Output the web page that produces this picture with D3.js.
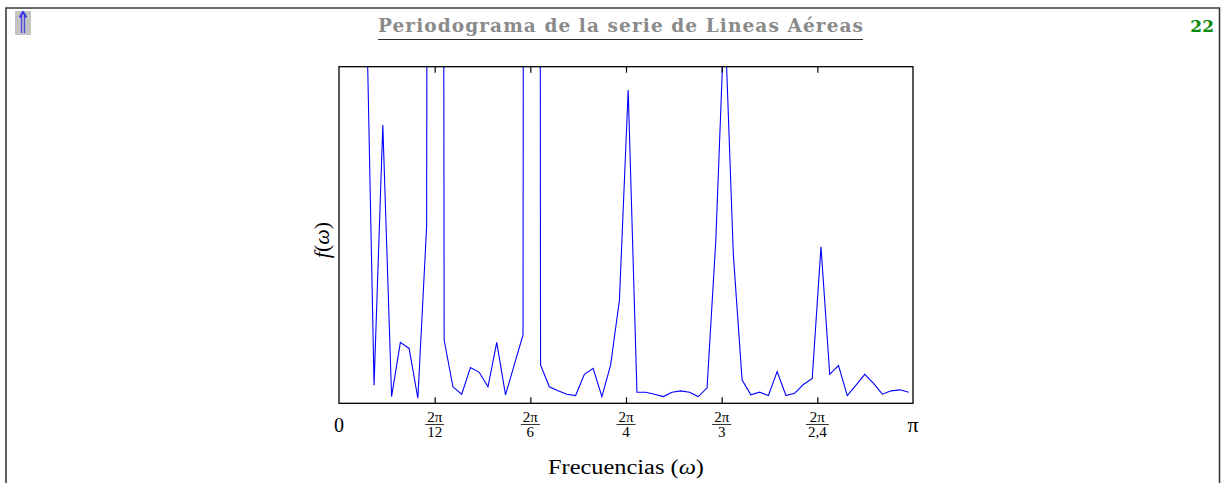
<!DOCTYPE html>
<html>
<head>
<meta charset="utf-8">
<script src="https://cdn.jsdelivr.net/npm/d3@7"></script>
<style>
  html, body { margin: 0; padding: 0; background: #fff; }
  svg { display: block; }
</style>
</head>
<body>
<svg id="chart" width="1226" height="483"></svg>
<script>
// ---- data ----
const seriesLength = 131; // length of the differenced series (Fourier frequencies 2πk/n)
// periodogram ordinates for harmonics k = 1..65 (arbitrary units; axis has no y tick labels)
const periodogram = [
  400, 300, 136, 5.4, 82.7, 2.0, 18.1, 16.3, 1.5, 52.5,
  2000, 18.8, 4.9, 2.7, 10.6, 9.2, 4.9, 18.1, 2.5, 11.4,
  20.3, 3000, 11.4, 4.9, 3.7, 2.7, 2.3, 8.6, 10.4, 2.0,
  11.4, 30.7, 93.1, 3.3, 3.3, 2.7, 2.0, 3.3, 3.7, 3.3,
  2.0, 4.6, 48.5, 116.8, 44.1, 6.9, 2.5, 3.3, 2.3, 9.4,
  2.3, 3.0, 5.6, 7.4, 46.5, 8.6, 11.2, 2.3, 5.4, 8.6,
  5.9, 2.7, 3.7, 4.0, 3.3
];
const tickPeriods = [12, 6, 4, 3, 2.4];
const tickDenoms = ["12", "6", "4", "3", "2,4"];
const titleText = "Periodograma de la serie de Lineas Aéreas";
const pageNumber = "22";
const xLabel = "Frecuencias (";
const yMax = 100;

// ---- layout ----
const svg = d3.select("#chart");
const L = 339, R = 913, T = 66.7, B = 403.3;

const x = d3.scaleLinear().domain([0, Math.PI]).range([L, R]);
const y = d3.scaleLinear().domain([0, yMax]).range([B, T]);

const points = periodogram.map((v, i) => ({ w: 2 * Math.PI * (i + 1) / seriesLength, v }));

// page frame
svg.append("path")
  .attr("d", "M6,483 V8 H1219.5 V483")
  .attr("fill", "none").attr("stroke", "#3a3a3a").attr("stroke-width", 1.6);

// nav arrow
svg.append("rect").attr("x", 15).attr("y", 11).attr("width", 16).attr("height", 24).attr("fill", "#c3c3c3");
svg.append("text").text("⇑")
  .attr("transform", "translate(23,33) scale(0.85,1.45)")
  .attr("text-anchor", "middle")
  .attr("font-family", "DejaVu Sans").attr("font-size", 21)
  .attr("fill", "#2f2fe8");

// title
svg.append("text").text(titleText)
  .attr("x", 378).attr("y", 32)
  .attr("textLength", 485).attr("lengthAdjust", "spacing")
  .attr("font-family", "DejaVu Serif").attr("font-weight", "bold").attr("font-size", 18.5)
  .attr("fill", "#8a8a8a");
svg.append("line").attr("x1", 378).attr("x2", 863).attr("y1", 39.5).attr("y2", 39.5)
  .attr("stroke", "#2a2a2a").attr("stroke-width", 1.2);

// page number
svg.append("text").text(pageNumber)
  .attr("x", 1214).attr("y", 32).attr("text-anchor", "end")
  .attr("font-family", "DejaVu Serif").attr("font-weight", "bold").attr("font-size", 17)
  .attr("fill", "#0a8a0a");

// clip
svg.append("defs").append("clipPath").attr("id", "plotclip")
  .append("rect").attr("x", L).attr("y", T).attr("width", R - L).attr("height", B - T);

// line
const line = d3.line().x(d => x(d.w)).y(d => y(d.v));
svg.append("path").datum(points)
  .attr("clip-path", "url(#plotclip)")
  .attr("d", line)
  .attr("fill", "none").attr("stroke", "#0000ff").attr("stroke-width", 1.1)
  .attr("stroke-linejoin", "miter");

// axes: ticks inward on bottom and top
const tickVals = tickPeriods.map(p => 2 * Math.PI / p);
const bottomAxis = d3.axisBottom(x).tickValues(tickVals).tickSize(-6).tickFormat("");
const topAxis = d3.axisTop(x).tickValues(tickVals).tickSize(-6).tickFormat("");
const gb = svg.append("g").attr("transform", `translate(0,${B})`).call(bottomAxis);
const gt = svg.append("g").attr("transform", `translate(0,${T})`).call(topAxis);
[gb, gt].forEach(g => {
  g.select(".domain").remove();
  g.selectAll(".tick line").attr("stroke", "#000").attr("stroke-width", 1.2);
});

// frame
svg.append("rect").attr("x", L).attr("y", T).attr("width", R - L).attr("height", B - T)
  .attr("fill", "none").attr("stroke", "#000").attr("stroke-width", 1.3);

// tick labels
const serif = "Liberation Serif";
svg.append("text").text("0").attr("x", x(0)).attr("y", 432).attr("text-anchor", "middle")
  .attr("font-family", serif).attr("font-size", 20).attr("fill", "#000");
svg.append("text").text("π").attr("x", x(Math.PI)).attr("y", 431.5).attr("text-anchor", "middle")
  .attr("font-family", serif).attr("font-size", 22).attr("fill", "#000");

const fr = svg.append("g").selectAll("g").data(tickVals).join("g")
  .attr("transform", d => `translate(${x(d)},0)`);
fr.append("text").text("2π").attr("y", 421.7).attr("text-anchor", "middle")
  .attr("font-family", serif).attr("font-size", 15).attr("fill", "#000");
fr.append("text").text((d, i) => tickDenoms[i]).attr("y", 437).attr("text-anchor", "middle")
  .attr("font-family", serif).attr("font-size", 15).attr("fill", "#000");
fr.append("line").attr("x1", (d, i) => tickDenoms[i].length > 2 ? -11.5 : -9.5)
  .attr("x2", (d, i) => tickDenoms[i].length > 2 ? 11.5 : 9.5)
  .attr("y1", 424.5).attr("y2", 424.5).attr("stroke", "#000").attr("stroke-width", 0.8);

// axis labels
const xl = svg.append("text").attr("x", 626).attr("y", 474).attr("text-anchor", "middle")
  .attr("textLength", 156).attr("lengthAdjust", "spacingAndGlyphs")
  .attr("font-family", serif).attr("font-size", 20).attr("fill", "#000");
xl.append("tspan").text(xLabel);
xl.append("tspan").text("ω").attr("font-style", "italic");
xl.append("tspan").text(")");

const yl = svg.append("text").attr("transform", "translate(329,240) rotate(-90)")
  .attr("text-anchor", "middle")
  .attr("font-family", serif).attr("font-size", 22).attr("fill", "#000");
yl.append("tspan").text("f").attr("font-style", "italic");
yl.append("tspan").text("(");
yl.append("tspan").text("ω").attr("font-style", "italic");
yl.append("tspan").text(")");
</script>
</body>
</html>
